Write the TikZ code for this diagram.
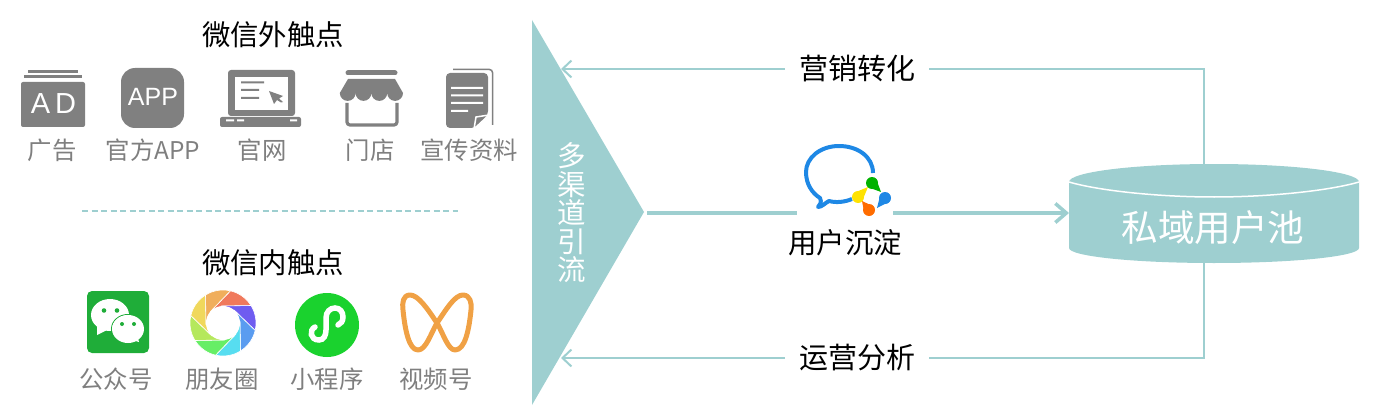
\documentclass[tikz,border=0pt]{standalone}
\usepackage{fontspec}
\setmainfont{Noto Sans CJK SC}
\newfontfamily\latinfont{Liberation Sans}
\usetikzlibrary{arrows.meta,calc}
\definecolor{teal1}{HTML}{9ECFD0}
\definecolor{icongrey}{HTML}{808080}
\definecolor{textgrey}{HTML}{7F7F7F}
\definecolor{wxgreen}{HTML}{1FAD39}
\definecolor{mpgreen}{HTML}{1AD22E}
\definecolor{vidorange}{HTML}{F0A145}
\definecolor{wcblue}{HTML}{1E88E5}
\begin{document}
\begin{tikzpicture}[x=1pt,y=-1pt]
\tikzstyle{every node}=[inner sep=0pt]
\tikzstyle{ttl}=[font=\fontsize{28.4}{28.4}\selectfont,text=black]
\tikzstyle{lbl}=[font=\fontsize{24.4}{24.4}\selectfont,text=textgrey]
\tikzstyle{flowlbl}=[font=\fontsize{29}{29}\selectfont,text=black,inner sep=14pt]
\tikzstyle{thinline}=[draw=teal1,line width=2pt]
\tikzstyle{thickline}=[draw=teal1,line width=4pt]
\tikzstyle{tip}=[-{Straight Barb[length=9pt,width=17pt,line width=2pt]}]
\tikzstyle{bigtip}=[-{Straight Barb[length=11pt,width=19pt,line width=3.5pt]}]
\tikzstyle{glyph}=[fill=icongrey]
\useasboundingbox (0,0) rectangle (1386,409);

\node[ttl] (outer) at (273,35) {微信外触点};
\node[ttl] (inner) at (273,263) {微信内触点};
\node[lbl] (ad) at (52,150) {广告};
\node[lbl] (app) at (153,150) {官方APP};
\node[lbl] (web) at (262,150) {官网};
\node[lbl] (shop) at (370,150) {门店};
\node[lbl] (doc) at (469,150) {宣传资料};
\node[lbl] (mp) at (116,379) {公众号};
\node[lbl] (moments) at (222,379) {朋友圈};
\node[lbl] (mini) at (327,379) {小程序};
\node[lbl] (video) at (436,379) {视频号};
\coordinate (sepl) at (82,211);
\coordinate (sepr) at (458,211);
\draw[teal1,line width=1.5pt,dash pattern=on 6pt off 3.5pt] (sepl) -- (sepr);

\fill[teal1] (532,20) -- (644,212) -- (532,405) -- cycle;
\node[font=\fontsize{28.5}{28.5}\selectfont,text=white,align=center] (tri) at (572,213) {多\\渠\\道\\引\\流};

\fill[teal1] (1069,182) arc (180:360:145 and 18) -- (1359,248) arc (0:180:145 and 15) -- cycle;
\draw[white,line width=1.5pt] (1069,182) .. controls (1100,191) and (1160,197) .. (1214,197) .. controls (1268,197) and (1328,191) .. (1359,182);
\node[font=\fontsize{36.6}{36.6}\selectfont,text=white] (pool) at (1213,228) {私域用户池};

\node[flowlbl] (mkt) at (857,69) {营销转化};
\node[flowlbl] (ops) at (857,358) {运营分析};
\node[font=\fontsize{28.4}{28.4}\selectfont,text=black] (settle) at (845,243) {用户沉淀};
\coordinate (pooltop) at (1204,165);
\coordinate (poolbot) at (1204,263);
\coordinate (triup) at (561,69);
\coordinate (tridown) at (561,358);
\coordinate (tripeak) at (647,213);
\coordinate (iconl) at (797,213);
\coordinate (iconr) at (893,213);
\coordinate (poolleft) at (1069,213);
\draw[thinline] (pooltop) |- (mkt.east);
\draw[thinline,tip] (mkt.west) -- (triup);
\draw[thinline] (poolbot) |- (ops.east);
\draw[thinline,tip] (ops.west) -- (tridown);
\draw[thickline] (tripeak) -- (iconl);
\draw[thickline,bigtip] (iconr) -- (poolleft);

\fill[glyph,rounded corners=2pt] (21,82) rectangle (85,127);
\fill[glyph] (24,75.5) rectangle (82,78);
\fill[glyph] (28,70.5) rectangle (78,73);
\node[font=\latinfont\fontsize{29}{29}\selectfont,text=white] at (53.5,104) {A\,D};

\fill[glyph,rounded corners=14pt] (121,68) rectangle (184,128);
\node[font=\latinfont\fontsize{25}{25}\selectfont,text=white] at (153,97) {APP};

\fill[glyph,rounded corners=3pt] (228,70) rectangle (295,116);
\fill[white] (235,77) rectangle (288,110);
\fill[glyph,rounded corners=2pt] (220,117) rectangle (301,127);
\fill[white] (226,119.5) rectangle (234,121.5) (237,119.5) rectangle (244,121.5) (290,119.5) rectangle (297,121.5);
\fill[glyph] (241,81.5) rectangle (264,83.5) (241,89) rectangle (259,91) (241,97) rectangle (259,99);
\fill[glyph] (269,91) -- (283,96) -- (279,98.5) -- (283,102) -- (281,102.5) -- (277,100) -- (274,104) -- cycle;

\draw[icongrey,line width=5pt,line cap=round] (348,73) -- (395,73);
\fill[glyph] (348,79) -- (395,79) -- (403,93) arc (0:180:7.9) arc (0:180:7.9) arc (0:180:7.9) arc (0:180:7.9) -- cycle;
\draw[icongrey,line width=3.2pt,rounded corners=3pt] (347,103) -- (347,125) -- (397,125) -- (397,103);

\draw[icongrey,line width=1.5pt,rounded corners=3pt] (453,69.5) -- (492.5,69.5) -- (492.5,125);
\fill[glyph,rounded corners=4pt] (446,73) -- (488,73) -- (488,115) -- (475,128) -- (446,128) -- cycle;
\fill[white] (451,87) rectangle (483,89) (451,94.5) rectangle (483,96.5) (451,102) rectangle (483,104) (451,110) rectangle (468,112);
\draw[white,line width=1.5pt,fill=icongrey] (474,129) -- (476,117) -- (489,115) -- cycle;

\fill[wxgreen,rounded corners=5pt] (87,291) rectangle (149,353);
\fill[white] (110,315) ellipse (19 and 16);
\fill[white] (97,326) -- (97,335) -- (107,330) -- cycle;
\fill[wxgreen] (104,310.5) circle (2.3) (117,310.5) circle (2.3);
\draw[wxgreen,line width=1pt] (128,329) ellipse (16.5 and 14.5);
\fill[white] (128,329) ellipse (16 and 14);
\fill[white] (132,340) -- (139,342) -- (137,335) -- cycle;
\fill[wxgreen] (122,324) circle (2) (134,324) circle (2);

\begin{scope}[shift={(223,323)},yscale=-1]
\definecolor{apa}{HTML}{F0795C}
\definecolor{apb}{HTML}{6F5CF0}
\definecolor{apc}{HTML}{5A9CF0}
\definecolor{apd}{HTML}{57DDF0}
\definecolor{ape}{HTML}{66EE66}
\definecolor{apf}{HTML}{B5E85C}
\definecolor{apg}{HTML}{F0D85C}
\definecolor{aph}{HTML}{F0AE5C}
\foreach \a/\c in {77/apa,32/apb,-13/apc,-58/apd,-103/ape,-148/apf,167/apg,122/aph}{
  \filldraw[fill=\c,draw=white,line width=.6pt] (\a:33) arc (\a:\a-45:33) -- (\a+14:17) -- (\a+59:17) -- cycle;
}
\fill[white] (0,0) circle (17);
\end{scope}

\fill[mpgreen] (327,325) circle (32);
\draw[white,line width=5.5pt,line cap=round] (315,327) .. controls (309,330) and (310,340) .. (319,340) .. controls (324,340) and (326,335) .. (326,330) -- (326,318) .. controls (326,312) and (330,308) .. (335,308) .. controls (340,308) and (343,312) .. (343,317) .. controls (343,321) and (341,324) .. (338,325);

\draw[vidorange,line width=5pt,line join=round] (437,323) .. controls (447,308) and (455,295) .. (463,295) .. controls (470,295) and (472,303) .. (471,310) .. controls (469,330) and (465,350) .. (455,350) .. controls (448,350) and (443,333) .. (437,323) .. controls (427,308) and (418,295) .. (410,295) .. controls (403,295) and (402,303) .. (403,310) .. controls (405,330) and (409,350) .. (418,350) .. controls (426,350) and (431,333) .. (437,323) -- cycle;

\draw[wcblue,line width=4pt,line join=round] (873,173) .. controls (873,157) and (858,146) .. (839,146) .. controls (820,146) and (806,158) .. (806,172) .. controls (806,184) and (812,193) .. (820,198) .. controls (822,202) and (820,205) .. (818,207) .. controls (822,207) and (825,203) .. (829,201) .. controls (836,203) and (845,202) .. (852,199);

\foreach \hx/\hy/\tx/\ty/\c in {872/183/881/192/green!70!black,885/198/877/208/wcblue,869/210/862/201/orange!85!red,858/197/868/187/yellow!85!orange}{
  \coordinate (h) at (\hx,\hy);
  \coordinate (t) at (\tx,\ty);
  \fill[\c] (h) circle (6);
  \fill[\c] ($(h)!5.8pt!90:(t)$) -- (t) -- ($(h)!5.8pt!-90:(t)$) -- cycle;
}
\end{tikzpicture}
\end{document}
